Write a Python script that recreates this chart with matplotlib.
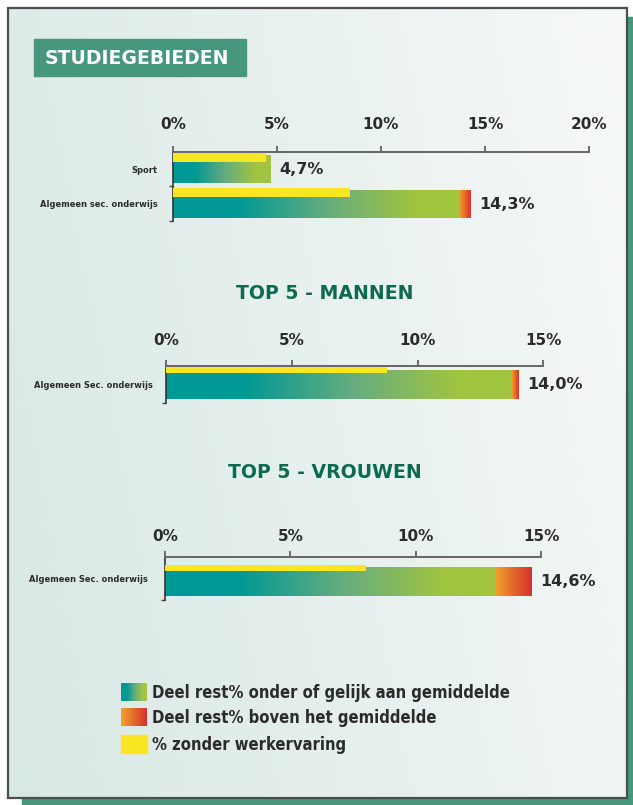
import numpy as np
import matplotlib
matplotlib.use('Agg')
import matplotlib.pyplot as plt
from matplotlib.colors import LinearSegmentedColormap
from matplotlib.patches import Rectangle

plt.rcParams['font.family'] = ['DejaVu Sans']

# Data (percentages)
studie_labels = ['Sport', 'Algemeen sec. onderwijs']
studie_totaal = [4.7, 14.3]
studie_boven = [0.0, 0.55]
studie_zonder = [4.5, 8.5]

man_labels = ['Algemeen Sec. onderwijs']
man_totaal = [14.0]
man_boven = [0.25]
man_zonder = [8.8]

vrouw_labels = ['Algemeen Sec. onderwijs']
vrouw_totaal = [14.6]
vrouw_boven = [1.45]
vrouw_zonder = [8.0]

ticks_20 = [0, 5, 10, 15, 20]
ticks_15 = [0, 5, 10, 15]

legend_labels = ['Deel rest% onder of gelijk aan gemiddelde',
                 'Deel rest% boven het gemiddelde',
                 '% zonder werkervaring']

# Colours
teal_box = '#47977f'
title_green = '#0b6a4f'
yellow = '#f8e622'
text_dark = '#2b2b2b'
cmap_onder = LinearSegmentedColormap.from_list(
    'onder', [(0, '#009894'), (0.22, '#009894'), (0.55, '#68ad7e'), (0.85, '#a2c540'), (1, '#a2c540')])
cmap_boven = LinearSegmentedColormap.from_list('boven', ['#f2a22b', '#d5312a'])
grad = np.linspace(0, 1, 256)[None, :]

W, H = 633, 805
fig = plt.figure(figsize=(W / 100, H / 100), dpi=100)

# background panel, shadow, border and title box
bg = fig.add_axes([0, 0, 1, 1])
bg.add_patch(Rectangle((22, 17), W - 22, H - 17, color=teal_box, zorder=0))
xx = np.linspace(0, 1, 300)
yy = np.linspace(0, 1, 300)
g = xx[None, :] * 0.8 + (1 - yy[:, None]) * 0.2
panel_cmap = LinearSegmentedColormap.from_list('panel', ['#d8e8e4', '#f6f9f8'])
bg.imshow(g, cmap=panel_cmap, extent=(7.5, 626.5, 797.5, 8.5), aspect='auto', zorder=1)
bg.add_patch(Rectangle((7.5, 8.5), 619, 789, fill=False, ec='#4d4d4d', lw=1.6, zorder=2))
bg.add_patch(Rectangle((34, 39), 211.5, 37.5, color=teal_box, zorder=3))
bg.text(45, 58.5, 'STUDIEGEBIEDEN', color='white', fontsize=13.6, fontweight='bold',
        va='center', ha='left', zorder=4)
bg.text(325, 293, 'TOP 5 - MANNEN', color=title_green, fontsize=13.6, fontweight='bold',
        ha='center', va='center', zorder=4)
bg.text(325, 472, 'TOP 5 - VROUWEN', color=title_green, fontsize=13.6, fontweight='bold',
        ha='center', va='center', zorder=4)

# legend (drawn by hand because of the gradient swatches)
sw_y = [683.5, 708.5, 735]
bg.imshow(grad, cmap=cmap_onder, extent=(121, 147, sw_y[0] + 18, sw_y[0]), aspect='auto', zorder=4)
bg.imshow(grad, cmap=cmap_boven, extent=(121, 147, sw_y[1] + 18, sw_y[1]), aspect='auto', zorder=4)
bg.add_patch(Rectangle((121, sw_y[2]), 26, 18, color=yellow, zorder=4))
for y, lab in zip(sw_y, legend_labels):
    bg.text(152, y + 9.5, lab, fontsize=11.9, fontweight='bold', fontstretch='condensed',
            color=text_dark, va='center', ha='left', zorder=5)
bg.set_xlim(0, W)
bg.set_ylim(H, 0)
bg.axis('off')


def draw_chart(px, labels, totaal, boven, zonder, xmax, xticks,
               main_off, main_h, yel_off, yel_h, tick_pad, label_pad):
    left, right, top, bottom = px
    ax = fig.add_axes([left / W, 1 - bottom / H, (right - left) / W, (bottom - top) / H])
    ax.patch.set_alpha(0)
    pos = np.arange(len(labels))
    for i in range(len(labels)):
        onder = totaal[i] - boven[i]
        yc = pos[i] + main_off
        ax.imshow(grad, cmap=cmap_onder, extent=(0, onder, yc + main_h / 2, yc - main_h / 2),
                  aspect='auto', zorder=2)
        if boven[i] > 0:
            ax.imshow(grad, cmap=cmap_boven, extent=(onder, totaal[i], yc + main_h / 2, yc - main_h / 2),
                      aspect='auto', zorder=2)
        ax.annotate(f'{totaal[i]:.1f}%'.replace('.', ','), xy=(totaal[i], yc), xytext=(6.5, 0),
                    textcoords='offset points', va='center', ha='left', fontsize=11.5,
                    fontweight='bold', color=text_dark)
    ax.barh(pos + yel_off, zonder, height=yel_h, color=yellow, zorder=3)

    ax.set_xlim(0, xmax)
    ax.set_ylim(len(labels) - 0.5, -0.5)
    ax.xaxis.tick_top()
    ax.set_xticks(xticks, [f'{t}%' for t in xticks])
    ax.tick_params(axis='x', length=4.5, width=1.2, color='#555555', pad=tick_pad,
                   labelsize=11, labelcolor=text_dark)
    for t in ax.get_xticklabels():
        t.set_fontweight('bold')
    ax.set_yticks(pos, labels)
    ax.set_yticks(pos + 0.5, minor=True)
    ax.tick_params(axis='y', which='major', length=0, pad=label_pad, labelsize=6.7,
                   labelcolor=text_dark)
    ax.tick_params(axis='y', which='minor', length=3, width=1, color='#444444')
    for t in ax.get_yticklabels():
        t.set_fontweight('bold')
        t.set_fontstretch('condensed')
    for s in ['right', 'bottom']:
        ax.spines[s].set_visible(False)
    ax.spines['top'].set_color('#666666')
    ax.spines['top'].set_linewidth(1.4)
    ax.spines['left'].set_color('#333333')
    ax.spines['left'].set_linewidth(1.2)
    return ax


draw_chart((172.7, 589.1, 151.7, 221), studie_labels, studie_totaal, studie_boven, studie_zonder,
           20, ticks_20, 0.015, 0.78, -0.32, 0.26, 9.5, 11)
draw_chart((166.3, 543.3, 365.7, 403.3), man_labels, man_totaal, man_boven, man_zonder,
           15, ticks_15, 0.01, 0.75, -0.39, 0.15, 8.5, 10)
draw_chart((165, 541.3, 556.7, 600), vrouw_labels, vrouw_totaal, vrouw_boven, vrouw_zonder,
           15, ticks_15, 0.08, 0.65, -0.24, 0.14, 4.5, 12)

fig.savefig('out.png', dpi=100)
